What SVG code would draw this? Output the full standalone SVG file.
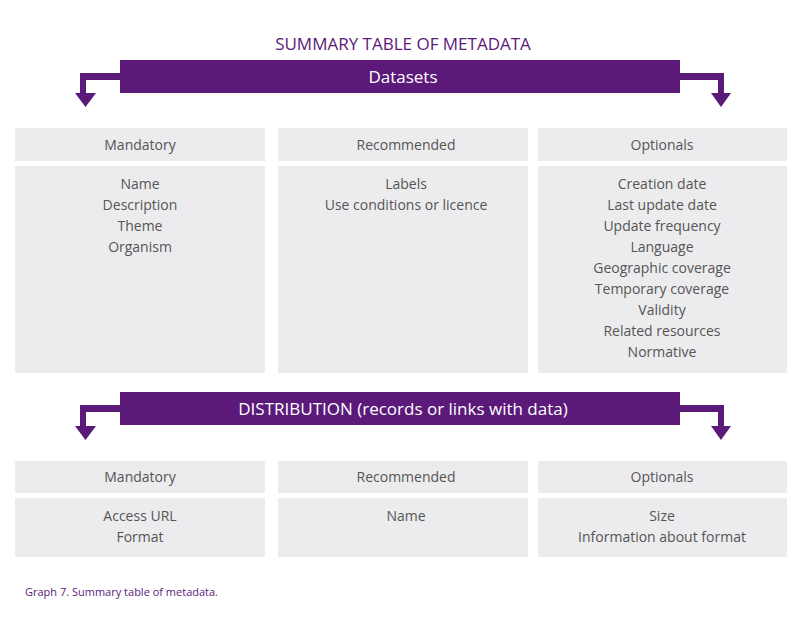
<svg xmlns="http://www.w3.org/2000/svg" width="806" height="625" viewBox="0 0 806 625">
<defs><style>
.t{font-family:"Open Sans","Liberation Sans",sans-serif;font-size:14px;fill:#555;text-anchor:middle}
.b{fill:#5b1a7a}
.c{fill:#ececee}
.w{font-family:"Open Sans","Liberation Sans",sans-serif;font-size:17px;fill:#fff;text-anchor:middle}
</style></defs>
<rect width="806" height="625" fill="#fff"/>
<text x="403" y="50" font-family="'Open Sans','Liberation Sans',sans-serif" font-size="17" fill="#5b1a7a" text-anchor="middle">SUMMARY TABLE OF METADATA</text>
<g id="connectors">
<path class="b" d="M120,73H80V93H75L85.5,107L96,93H86V80H120Z"/>
<path class="b" d="M680,73H724V93H731L721,107L711,93H718V80H680Z"/>
<path class="b" d="M120,405H80V426H75L85.5,440L96,426H86V412H120Z"/>
<path class="b" d="M680,405H724V426H731L721,440L711,426H718V412H680Z"/>
</g>
<g id="banner1"><rect class="b" x="120" y="60" width="560" height="33"/><text class="w" x="403" y="83">Datasets</text></g>
<g id="banner2"><rect class="b" x="120" y="392" width="560" height="33"/><text class="w" x="403" y="415">DISTRIBUTION (records or links with data)</text></g>
<g id="d-mand"><rect class="c" x="15" y="128" width="250" height="33"/><text class="t" x="140" y="150">Mandatory</text>
<rect class="c" x="15" y="166" width="250" height="207"/>
<text class="t" x="140" y="189">Name</text><text class="t" x="140" y="210">Description</text><text class="t" x="140" y="231">Theme</text><text class="t" x="140" y="252">Organism</text></g>
<g id="d-rec"><rect class="c" x="278" y="128" width="250" height="33"/><text class="t" x="406" y="150">Recommended</text>
<rect class="c" x="278" y="166" width="250" height="207"/>
<text class="t" x="406" y="189">Labels</text><text class="t" x="406" y="210">Use conditions or licence</text></g>
<g id="d-opt"><rect class="c" x="538" y="128" width="249" height="33"/><text class="t" x="662" y="150">Optionals</text>
<rect class="c" x="538" y="166" width="249" height="207"/>
<text class="t" x="662" y="189">Creation date</text><text class="t" x="662" y="210">Last update date</text><text class="t" x="662" y="231">Update frequency</text><text class="t" x="662" y="252">Language</text><text class="t" x="662" y="273">Geographic coverage</text><text class="t" x="662" y="294">Temporary coverage</text><text class="t" x="662" y="315">Validity</text><text class="t" x="662" y="336">Related resources</text><text class="t" x="662" y="357">Normative</text></g>
<g id="r-mand"><rect class="c" x="15" y="461" width="250" height="32"/><text class="t" x="140" y="482">Mandatory</text>
<rect class="c" x="15" y="498" width="250" height="59"/>
<text class="t" x="140" y="521">Access URL</text><text class="t" x="140" y="542">Format</text></g>
<g id="r-rec"><rect class="c" x="278" y="461" width="250" height="32"/><text class="t" x="406" y="482">Recommended</text>
<rect class="c" x="278" y="498" width="250" height="59"/>
<text class="t" x="406" y="521">Name</text></g>
<g id="r-opt"><rect class="c" x="538" y="461" width="249" height="32"/><text class="t" x="662" y="482">Optionals</text>
<rect class="c" x="538" y="498" width="249" height="59"/>
<text class="t" x="662" y="521">Size</text><text class="t" x="662" y="542">Information about format</text></g>
<text x="25" y="596" font-family="'Open Sans','Liberation Sans',sans-serif" font-size="11" fill="#5b1a7a">Graph 7. Summary table of metadata.</text>
</svg>
